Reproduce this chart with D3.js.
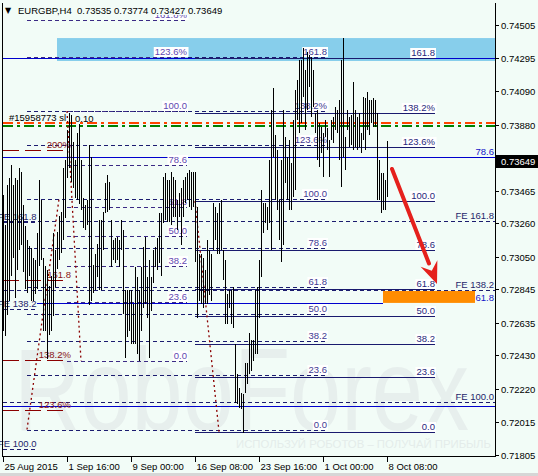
<!DOCTYPE html>
<html><head><meta charset="utf-8">
<script src="https://cdn.jsdelivr.net/npm/d3@7"></script>
<style>html,body{margin:0;padding:0;background:#F2FCF7;} svg{display:block;}</style>
</head><body>
<svg id="c" width="538" height="476"></svg>
<script>
// ---------- data ----------
const symbol = "EURGBP,H4";
const lastOHLC = [0.73535, 0.73774, 0.73427, 0.73649];
const lastPrice = 0.73649;
const priceTicks = [0.74505,0.74295,0.74090,0.73880,0.73675,0.73465,0.73260,0.73050,0.72845,0.72635,0.72430,0.72220,0.72015,0.71805];
const dateTickIndex = [0,32,64,96,128,160,192];
const dateTickLabels = ["25 Aug 2015","1 Sep 16:00","9 Sep 00:00","16 Sep 08:00","23 Sep 16:00","1 Oct 00:00","8 Oct 08:00"];

const highs = [
0.73436,0.73247,0.73498,0.73542,0.73624,0.73498,0.73542,0.73530,0.73605,0.73580,
0.73373,0.73240,0.73152,0.73115,0.73102,0.73039,0.73027,0.73196,0.73530,0.73404,
0.73039,0.72989,0.72964,0.72869,0.72926,0.73196,0.73090,0.73203,0.73303,0.73328,
0.73605,0.73656,0.73844,0.73951,0.73939,0.73769,0.73656,0.73825,0.73882,0.73656,
0.73417,0.73373,0.73404,0.73750,0.73675,0.72995,0.73065,0.73127,0.73278,0.73278,
0.73328,0.73511,0.73561,0.73517,0.73278,0.73152,0.73165,0.73171,0.73152,0.73278,
0.73215,0.72838,0.72838,0.72838,0.72838,0.72756,0.72983,0.72920,0.72838,0.72983,
0.73108,0.73171,0.72920,0.73027,0.72920,0.73090,0.73108,0.73165,0.73322,0.73322,
0.73549,0.73574,0.73530,0.73530,0.73580,0.73549,0.73530,0.73404,0.73448,0.73479,
0.73530,0.73549,0.73574,0.73593,0.73580,0.73580,0.73580,0.73360,0.73065,0.73065,
0.73039,0.72964,0.73152,0.73090,0.73065,0.73385,0.73360,0.73322,0.73385,0.73404,
0.73090,0.73027,0.72819,0.72838,0.72838,0.72857,0.72505,0.72316,0.72228,0.72197,
0.72190,0.72385,0.72385,0.72568,0.72524,0.72524,0.72838,0.72857,0.73027,0.73467,
0.73385,0.73385,0.73360,0.73656,0.73970,0.74108,0.73813,0.73719,0.73404,0.73656,
0.73970,0.73800,0.73675,0.73781,0.73637,0.73907,0.74096,0.74159,0.74285,0.74285,
0.74360,0.74222,0.74335,0.74316,0.74304,0.74222,0.73951,0.73970,0.73888,0.73863,
0.73825,0.73907,0.73857,0.73781,0.73907,0.73926,0.73989,0.73970,0.74033,0.74285,
0.74423,0.73800,0.73970,0.73926,0.73939,0.74146,0.73970,0.73926,0.73951,0.73825,
0.74052,0.74046,0.74083,0.74033,0.74033,0.74046,0.74033,0.73951,0.73656,0.73574,
0.73574,0.73530,0.73774];
const lows = [
0.72586,0.72555,0.72681,0.72775,0.72932,0.73039,0.72788,0.72964,0.73090,0.73121,
0.72951,0.72850,0.72825,0.72932,0.72775,0.72775,0.72819,0.72850,0.72989,0.73027,
0.72586,0.72586,0.72410,0.72561,0.72586,0.72675,0.72857,0.72976,0.73027,0.73071,
0.73152,0.73291,0.73542,0.73605,0.73517,0.73479,0.73417,0.73404,0.73379,0.73341,
0.73228,0.73215,0.73247,0.72744,0.72775,0.72825,0.72838,0.72920,0.72838,0.72838,
0.73090,0.73322,0.73328,0.73341,0.72983,0.73027,0.73008,0.73027,0.72983,0.73090,
0.72693,0.72417,0.72543,0.72586,0.72505,0.72505,0.72505,0.72442,0.72398,0.72586,
0.72731,0.72756,0.72668,0.72417,0.72712,0.72882,0.72983,0.72964,0.73008,0.72932,
0.73259,0.73278,0.73266,0.73266,0.73247,0.73297,0.73297,0.73215,0.73297,0.73121,
0.73297,0.73385,0.73404,0.73360,0.73341,0.73360,0.73014,0.72668,0.72775,0.72756,
0.72731,0.72756,0.72756,0.72807,0.72775,0.73090,0.73152,0.73065,0.73065,0.73090,
0.72901,0.72630,0.72630,0.72731,0.72630,0.72605,0.72134,0.72127,0.72102,0.72096,
0.71945,0.72197,0.72253,0.72316,0.72335,0.72398,0.72442,0.72442,0.72668,0.72920,
0.73196,0.73259,0.73215,0.73259,0.73090,0.73675,0.73404,0.73341,0.73152,0.73014,
0.73121,0.73511,0.73404,0.73341,0.73341,0.73423,0.73467,0.73907,0.73825,0.73888,
0.74052,0.73844,0.73970,0.74115,0.73926,0.73989,0.73825,0.73656,0.73612,0.73700,
0.73549,0.73800,0.73719,0.73549,0.73781,0.73763,0.73844,0.73825,0.73656,0.73486,
0.73675,0.73593,0.73844,0.73737,0.73750,0.73719,0.73737,0.73719,0.73737,0.73700,
0.73781,0.73719,0.73844,0.73813,0.73888,0.73863,0.73863,0.73404,0.73404,0.73322,
0.73341,0.73341,0.73427];

// Fibonacci objects: prices at 0% and 100%, bar-index span, levels & labels
const fibStdLevels = [0,23.6,38.2,50,61.8,78.6,100];
const fibStdLabels = ["0.0","23.6","38.2","50.0","61.8","78.6","100.0"];
const fibExtLevels = [0,23.6,38.2,50,61.8,78.6,100,123.6,138.2,161.8];
const fibExtLabels = ["0.0","23.6","38.2","50.0","61.8","78.6","100.0","123.6%","138.2%","161.8"];
const fibLeft  = {p0:0.72395, p100:0.73965, from:32, to:92,  levels:fibStdLevels, labels:fibStdLabels, trend:[[32,100],[39,0]]};
const fibPct   = {p0:0.73552, p100:0.74160, from:12, to:92,  levels:[123.6,161.8], labels:["123.6%","161.8%"]};
const fibDash  = {p0:0.71965, p100:0.73412, from:12, to:162, levels:fibExtLevels, labels:fibExtLabels, trend:[[12,0],[28,100]]};
const fibSolid = {p0:0.71951, p100:0.73400, from:96, to:216, levels:fibExtLevels, labels:fibExtLabels, trend:[[96,100],[108,0]]};
const fibRed   = {p0:0.69450, p100:0.71585, from:0,  to:33,  levels:[123.6,138.2,161.8,200], labels:["123.6%","138.2%","161.8","200%"]};
const feRight  = {p0:0.70298, p100:0.72138, from:0,  to:246, levels:[100,138.2,161.8], labels:["FE 100.0","FE 138.2","FE 161.8"]};
const feLeft   = {p0:0.69541, p100:0.71843, from:0,  to:17,  levels:[100,138.2,161.8], labels:["FE 100.0","FE 138.2","FE 161.8"]};

const bluePrices = [0.74298, 0.73676, 0.72760, 0.72110];
const blueFrom   = [0, 0, 17, 0];
const blueTo     = [246, 246, 190, 246];
const blueLabels = ["", "78.6", "61.8", ""];
const zoneTop = [0.74423, 0.74279]; const zoneFrom = 27;
const targetZone = [0.72835, 0.72760]; const targetFrom = 190, targetTo = 236;
const arrowFrom = [194.5, 0.73601], arrowTo = [217, 0.72879];
const slPrice = 0.73890, tpPrice = 0.73871;
const orderText = "#15958773 sl", orderLots = "0.10";

// ---------- drawing ----------
const W = 538, H = 476, BG = "#F2FCF7";
const FONT = "'Liberation Sans', Arial, sans-serif";
const svg = d3.select("#c");
const x = d3.scaleLinear().domain([0, 246]).range([3, 495]);
const y = d3.scaleLinear().domain([0.71805, 0.74505]).range([455, 25]);
const cy = v => Math.round(y(v)) + 0.5;

svg.append("rect").attr("width", W).attr("height", H).attr("fill", BG);
svg.append("rect").attr("x",0).attr("y",473).attr("width",W).attr("height",3).attr("fill","#D6D6D6");

// watermark
svg.append("text").attr("x", 14).attr("y", 430).attr("font-family", "'Liberation Sans', Arial, sans-serif")
  .attr("font-size", 116).attr("fill", "#E7EFED").attr("textLength", 455).attr("lengthAdjust","spacingAndGlyphs").text("RoboForex");
svg.append("text").attr("x", 236).attr("y", 448).attr("font-family", FONT).attr("font-size", 10.5)
  .attr("fill", "#E4ECEA").attr("textLength", 255).attr("lengthAdjust","spacingAndGlyphs").text("ИСПОЛЬЗУЙ РОБОТОВ – ПОЛУЧАЙ ПРИБЫЛЬ");

// zones
svg.append("rect").attr("x", x(zoneFrom)).attr("y", y(zoneTop[0])).attr("width", x(246) - x(zoneFrom))
  .attr("height", y(zoneTop[1]) - y(zoneTop[0])).attr("fill", "#87CEEB");
svg.append("rect").attr("x", x(targetFrom)).attr("y", y(targetZone[0])).attr("width", x(targetTo) - x(targetFrom))
  .attr("height", y(targetZone[1]) - y(targetZone[0])).attr("fill", "#FF8C00");

const gLines = svg.append("g").attr("shape-rendering", "crispEdges");
const gLabels = svg.append("g");
const labels = [];

function hline(p, i0, i1, st) {
  const yy = st.width === 2 ? Math.round(y(p)) : cy(p);
  gLines.append("line").attr("x1", x(i0)).attr("x2", x(i1)).attr("y1", yy).attr("y2", yy)
    .attr("stroke", st.color).attr("stroke-width", st.width || 1).attr("stroke-dasharray", st.dash || null);
  return yy;
}

// blue lines
bluePrices.forEach((p, k) => {
  const yy = hline(p, blueFrom[k], blueTo[k], {color: "#0000CD", width: 1});
  if (blueLabels[k]) labels.push({x: 494, y: yy - 3, t: blueLabels[k], a: "end", c: "#1414C8", bg: false});
});
// order lines
hline(slPrice, 0, 246, {color: "#FF4500", width: 2, dash: "10,4,3,4"});
hline(tpPrice, 0, 246, {color: "#008000", width: 2, dash: "10,4,3,4"});

function drawFib(f, st) {
  f.levels.forEach((r, k) => {
    const p = f.p0 + (f.p100 - f.p0) * r / 100;
    const yy = hline(p, f.from, f.to, st);
    if (st.labelStart !== undefined) labels.push({x: st.labelStart, y: yy - 2.5, t: f.labels[k], a: "start", c: st.label, bg: false});
    else labels.push({x: x(f.to) + (st.labelDx || 0), y: yy - 2.5, t: f.labels[k], a: "end", c: st.label, bg: st.bg});
  });
  if (f.trend) {
    const pts = f.trend.map(([i, r]) => [x(i), y(f.p0 + (f.p100 - f.p0) * r / 100)]);
    svg.append("path").attr("d", d3.line()(pts)).attr("fill", "none").attr("stroke", "#8B0000")
      .attr("stroke-width", 1.3).attr("stroke-dasharray", "2,3");
  }
}
drawFib(feRight, {color: "#1C1C6E", dash: "4,3", label: "#1F1F6B", labelDx: -1});
drawFib(feLeft,  {color: "#1C1C6E", dash: "4,3", label: "#1F1F6B", labelStart: -2});
drawFib(fibDash, {color: "#1C1C70", dash: "4,3", label: "#3F3A92", bg: true});
drawFib(fibSolid,{color: "#1A1A6E", width: 1.6, label: "#27277A", bg: true});
drawFib(fibLeft, {color: "#3B2A85", dash: "4,3", label: "#6249B0", bg: true});
drawFib(fibPct,  {color: "#3B2A85", dash: "4,3", label: "#6249B0", bg: true});
drawFib(fibRed,  {color: "#8B0000", width: 1.5, dash: "16,6", label: "#8B1515", bg: false, labelDx: 2});

// labels with background
labels.forEach(l => {
  const t = gLabels.append("text").attr("x", l.x).attr("y", l.y).attr("text-anchor", l.a)
    .attr("font-family", FONT).attr("font-size", 9.5).attr("fill", l.c).text(l.t);
  if (l.bg) {
    const b = t.node().getBBox();
    gLabels.insert("rect", () => t.node()).attr("x", b.x - 1).attr("y", b.y + 1).attr("width", b.width + 2)
      .attr("height", b.height - 1).attr("fill", "#FFFFFF");
  }
});

// price bars
svg.append("g").attr("shape-rendering", "crispEdges").selectAll("line").data(highs).join("line")
  .attr("x1", (d, i) => Math.round(x(i)) + 0.5).attr("x2", (d, i) => Math.round(x(i)) + 0.5)
  .attr("y1", d => y(d)).attr("y2", (d, i) => y(lows[i]))
  .attr("stroke", "#000").attr("stroke-width", 1);

// arrow
{
  const x1 = x(arrowFrom[0]), y1 = y(arrowFrom[1]), x2 = x(arrowTo[0]), y2 = y(arrowTo[1]);
  const ang = Math.atan2(y2 - y1, x2 - x1), L = 22, Wd = 9;
  const bx = x2 - L * Math.cos(ang), by = y2 - L * Math.sin(ang);
  svg.append("line").attr("x1", x1).attr("y1", y1).attr("x2", bx).attr("y2", by)
    .attr("stroke", "#E5201C").attr("stroke-width", 4).attr("stroke-linecap", "round");
  const px = -Math.sin(ang), py = Math.cos(ang);
  svg.append("path").attr("d", d3.line()([[x2, y2], [bx + px * Wd, by + py * Wd], [bx + 0.35 * L * Math.cos(ang), by + 0.35 * L * Math.sin(ang)], [bx - px * Wd, by - py * Wd]]) + "Z")
    .attr("fill", "#E5201C");
}

// frame and axes
const ax = svg.append("g").attr("shape-rendering", "crispEdges");
ax.append("line").attr("x1", 2.5).attr("x2", 2.5).attr("y1", 3).attr("y2", 457).attr("stroke", "#000");
ax.append("line").attr("x1", 495.5).attr("x2", 495.5).attr("y1", 3).attr("y2", 457).attr("stroke", "#000");
ax.append("line").attr("x1", 2).attr("x2", 496).attr("y1", 456.5).attr("y2", 456.5).attr("stroke", "#000");

priceTicks.forEach(v => {
  const yy = cy(v);
  ax.append("line").attr("x1", 496).attr("x2", 499).attr("y1", yy).attr("y2", yy).attr("stroke", "#000");
  svg.append("text").attr("x", 501).attr("y", yy + 3.5).attr("font-family", FONT).attr("font-size", 9.5)
    .attr("fill", "#000").text(d3.format(".5f")(v));
});
dateTickIndex.forEach((i, k) => {
  const xx = Math.round(x(i)) + 0.5;
  ax.append("line").attr("x1", xx).attr("x2", xx).attr("y1", 457).attr("y2", 462).attr("stroke", "#000");
  svg.append("text").attr("x", xx + 1).attr("y", 470).attr("font-family", FONT).attr("font-size", 9.5)
    .attr("fill", "#000").text(dateTickLabels[k]);
});
// current price box
{
  const yy = cy(lastPrice);
  svg.append("rect").attr("x", 496).attr("y", yy - 6.5).attr("width", 42).attr("height", 13).attr("fill", "#000");
  svg.append("text").attr("x", 501).attr("y", yy + 3.5).attr("font-family", FONT).attr("font-size", 9.5)
    .attr("fill", "#fff").text(d3.format(".5f")(lastPrice));
}

// title
svg.append("rect").attr("x", 3).attr("y", 3).attr("width", 216).attr("height", 12).attr("fill", BG);
svg.append("text").attr("x", 5).attr("y", 13).attr("font-size", 8).attr("font-family", "'DejaVu Sans', sans-serif").text("▼");
svg.append("text").attr("x", 18).attr("y", 14).attr("font-family", FONT).attr("font-size", 9.5).attr("fill", "#000")
  .text(symbol + "\u00A0\u00A0" + lastOHLC.map(d3.format(".5f")).join(" "));
// order label
svg.append("text").attr("x", 9).attr("y", 121).attr("font-family", FONT).attr("font-size", 9.5).attr("fill", "#000").text(orderText);
svg.append("text").attr("x", 75).attr("y", 122).attr("font-family", FONT).attr("font-size", 9.5).attr("fill", "#000").text(orderLots);
</script>
</body></html>
